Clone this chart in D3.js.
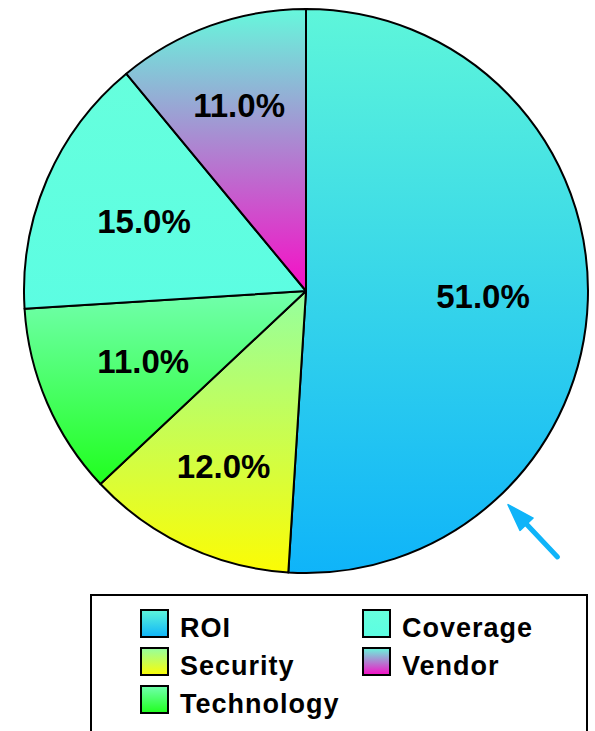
<!DOCTYPE html>
<html>
<head>
<meta charset="utf-8">
<script src="https://cdn.jsdelivr.net/npm/d3@7/dist/d3.min.js"></script>
<style>
  html, body { margin: 0; padding: 0; background: #ffffff; }
  svg { display: block; }
  text { font-family: "Liberation Sans", Arial, Helvetica, sans-serif; font-weight: bold; fill: #000; }
</style>
</head>
<body>
<svg id="chart" width="595" height="731"></svg>
<script>
// Share of responses by category (percent)
const categories = ["ROI", "Security", "Technology", "Coverage", "Vendor"];
const values = [51.0, 12.0, 11.0, 15.0, 11.0];

// Vertical gradient stops for each slice (top colour, bottom colour)
const topColors = ["#5ef6da", "#94ffa0", "#72ffae", "#66ffdd", "#66f8dc"];
const bottomColors = ["#0fb4f9", "#fcfc04", "#20ff1e", "#5cfde2", "#f80cc6"];

// Legend is filled column by column
const legendRows = 3;

const W = 595, H = 731;
const cx = 306, cy = 291, R = 282;

const svg = d3.select("#chart");
const defs = svg.append("defs");

categories.forEach((c, i) => {
  const g = defs.append("linearGradient")
    .attr("id", "grad" + i)
    .attr("x1", 0).attr("y1", 0).attr("x2", 0).attr("y2", 1);
  g.append("stop").attr("offset", "0%").attr("stop-color", topColors[i]);
  g.append("stop").attr("offset", "100%").attr("stop-color", bottomColors[i]);
});

const data = categories.map((c, i) => ({ name: c, value: values[i], idx: i }));

const pie = d3.pie().sort(null).value(d => d.value).startAngle(0).endAngle(2 * Math.PI);
const arcs = pie(data);
const arc = d3.arc().innerRadius(0).outerRadius(R);

const gPie = svg.append("g").attr("transform", `translate(${cx},${cy})`);

gPie.selectAll("path.slice")
  .data(arcs)
  .join("path")
  .attr("class", "slice")
  .attr("d", arc)
  .attr("fill", d => `url(#grad${d.data.idx})`)
  .attr("stroke", "#000")
  .attr("stroke-width", 2)
  .attr("stroke-linejoin", "round");

// Percentage labels: the outer edge of each label sits on a fixed radius
const labelFont = 33;
const outerLabelR = R * 0.795;
const labels = gPie.selectAll("text.pct")
  .data(arcs)
  .join("text")
  .attr("class", "pct")
  .attr("font-size", labelFont)
  .attr("text-anchor", "middle")
  .text(d => d3.format(".1f")(d.data.value) + "%");

labels.each(function (d) {
  const t = d3.select(this);
  const halfW = this.getComputedTextLength() / 2;
  const halfH = labelFont * 0.36;
  const a = (d.startAngle + d.endAngle) / 2;
  const s = Math.sin(a), c = Math.cos(a);
  const extent = halfW * Math.abs(s) + halfH * Math.abs(c);
  const dist = outerLabelR - extent;
  const x = dist * s, y = -dist * c;
  t.attr("x", x).attr("y", y + halfH);
});

// Pointer arrow aimed at the edge of the first slice
const pointerAngle = 136.6 * Math.PI / 180;
const tipR = R + 12, tailR = R + 84;
const ux = Math.sin(pointerAngle), uy = -Math.cos(pointerAngle);
const tip = [cx + tipR * ux, cy + tipR * uy];
const tail = [cx + tailR * ux, cy + tailR * uy];
const headLen = 27, headHalf = 9;
const base = [tip[0] + headLen * ux, tip[1] + headLen * uy];
const px = -uy, py = ux;
svg.append("line")
  .attr("x1", base[0] - 2 * ux).attr("y1", base[1] - 2 * uy)
  .attr("x2", tail[0]).attr("y2", tail[1])
  .attr("stroke", bottomColors[0]).attr("stroke-width", 5)
  .attr("stroke-linecap", "round");
svg.append("path")
  .attr("d", d3.line()([
    tip,
    [base[0] + headHalf * px, base[1] + headHalf * py],
    [base[0] - headHalf * px, base[1] - headHalf * py]
  ]) + "Z")
  .attr("fill", bottomColors[0])
  .attr("stroke", bottomColors[0])
  .attr("stroke-width", 1.5)
  .attr("stroke-linejoin", "round");

// Legend
const legendBox = { x: 91, y: 595, w: 496, h: 160 };
svg.append("rect")
  .attr("x", legendBox.x).attr("y", legendBox.y)
  .attr("width", legendBox.w).attr("height", legendBox.h)
  .attr("fill", "#fff").attr("stroke", "#000").attr("stroke-width", 2);

const colX = d3.scalePoint().domain([0, 1]).range([141, 363]);
const rowY = d3.scaleLinear().domain([0, 1]).range([610, 648]);
const sw = 27;

const items = svg.selectAll("g.legend-item")
  .data(data)
  .join("g")
  .attr("class", "legend-item")
  .attr("transform", (d, i) => `translate(${colX(Math.floor(i / legendRows))},${rowY(i % legendRows)})`);

items.append("rect")
  .attr("x", 0).attr("y", 0).attr("width", sw).attr("height", sw)
  .attr("fill", d => `url(#grad${d.idx})`)
  .attr("stroke", "#000").attr("stroke-width", 2);

items.append("text")
  .attr("x", 39).attr("y", sw)
  .attr("font-size", 27)
  .attr("letter-spacing", 1)
  .text(d => d.name);
</script>
</body>
</html>
